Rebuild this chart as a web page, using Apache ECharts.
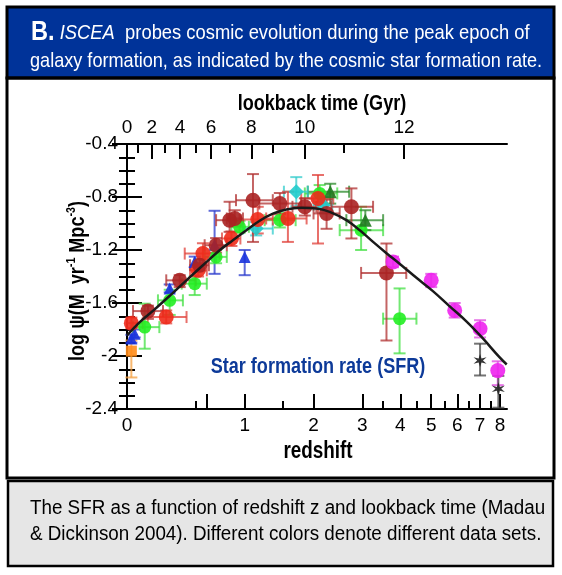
<!DOCTYPE html>
<html><head><meta charset="utf-8">
<script src="https://cdn.jsdelivr.net/npm/echarts@6/dist/echarts.min.js"></script>
<style>html,body{margin:0;padding:0;background:#fff}#c{width:562px;height:575px}</style>
</head><body><div id="c"></div><script>
// ---------- data ----------
// bottom axis (redshift z), plotted on log10(1+z)
const zMajorTicks = [0, 0.6, 1, 2, 3, 4, 5, 6, 7, 8];
const zLabelTicks = [0, 1, 2, 3, 4, 5, 6, 7, 8];
const zMinorTicks = [0.5, 1.5, 3.5, 4.5, 5.5, 6.5, 7.5];
// top axis: lookback time (Gyr) and the redshift where each tick sits
const lookbackGyr = [0, 1, 2, 3, 4, 5, 6, 7, 8, 9, 10, 11, 12];
const lookbackZ   = [0, 0.067, 0.157, 0.25, 0.366, 0.5, 0.64, 0.83, 1.08, 1.36, 1.85, 2.59, 4.11];
// y axis
const yMin = -2.4, yMax = -0.4, yStep = 0.4;

// points: [z, log SFR, zLow, zHigh, logLow, logHigh]
const redPts = [
  [0.026, -1.752, 0.0, 0.097, -1.71, -1.79],
  [0.26, -1.706, 0.13, 0.42, -1.656, -1.754],
  [0.52, -1.353, 0.45, 0.6, -1.31, -1.40],
  [0.564, -1.227, 0.405, 0.726, -1.149, -1.30],
  [0.85, -1.113, 0.75, 0.95, -1.06, -1.17],
  [1.16, -0.97, 0.94, 1.36, -0.874, -1.075],
  [1.58, -0.962, 1.27, 1.88, -0.76, -1.139],
  [2.08, -0.811, 1.79, 2.37, -0.634, -1.151]
];
const darkRedPts = [
  [0.131, -1.661, 0.036, 0.236, -1.62, -1.72],
  [0.364, -1.429, 0.26, 0.5, -1.39, -1.48],
  [0.534, -1.315, 0.45, 0.62, -1.27, -1.36],
  [0.69, -1.164, 0.58, 0.8, -1.11, -1.22],
  [0.83, -0.975, 0.69, 0.96, -0.836, -1.063],
  [0.886, -0.962, 0.8, 0.98, -0.90, -1.02],
  [1.1, -0.824, 0.9, 1.36, -0.627, -1.139],
  [1.46, -0.849, 1.18, 1.79, -0.77, -0.93],
  [1.85, -0.874, 1.65, 2.05, -0.81, -0.94],
  [2.24, -0.924, 2.0, 2.5, -0.82, -1.04],
  [2.75, -0.874, 2.33, 3.26, -0.735, -1.113],
  [3.61, -1.373, 2.97, 4.18, -1.151, -1.883]
];
const greenPts = [
  [0.11, -1.782, 0.036, 0.21, -1.605, -1.945],
  [0.286, -1.58, 0.2, 0.39, -1.5, -1.69],
  [0.49, -1.454, 0.38, 0.6, -1.4, -1.54],
  [0.69, -1.252, 0.58, 0.8, -1.2, -1.3],
  [0.94, -1.025, 0.85, 1.05, -0.98, -1.07],
  [1.46, -0.975, 1.25, 1.7, -0.92, -1.03],
  [2.11, -0.773, 1.85, 2.45, -0.71, -0.84],
  [2.97, -1.05, 2.5, 3.52, -0.874, -1.2],
  [3.98, -1.718, 3.52, 4.5, -1.49, -1.98]
];
const darkGreenPts = [
  [2.31, -0.76, 1.9, 2.7, -0.70, -0.85],
  [3.07, -0.975, 2.64, 3.52, -0.90, -1.05]
];
const bluePts = [
  [0.026, -1.868, null, null, -1.84, -1.90],
  [0.046, -1.832, null, null, -1.80, -1.86],
  [0.286, -1.491, null, null, -1.46, -1.52],
  [0.49, -1.29, null, null, -1.25, -1.33],
  [0.675, -1.16, null, null, -0.904, -1.38],
  [1.0, -1.252, null, null, -1.20, -1.39]
];
const cyanPts = [
  [1.14, -1.038, 0.98, 1.36, -0.99, -1.09],
  [1.71, -0.76, 1.52, 1.9, -0.65, -0.87],
  [2.17, -0.861, 2.0, 2.35, -0.80, -0.92]
];
const magentaPts = [
  [3.79, -1.29, null, null, -1.25, -1.33],
  [5.0, -1.429, null, null, -1.38, -1.48],
  [5.89, -1.656, null, null, -1.60, -1.71],
  [7.0, -1.794, null, null, -1.73, -1.86],
  [7.88, -2.11, null, null, -2.04, -2.22]
];
const blackPts = [
  [7.0, -2.034, null, null, -1.907, -2.147],
  [7.91, -2.248, null, null, -2.15, -2.39]
];
const orangePts = [
  [0.026, -1.963, null, null, -1.883, -2.162]
];
// fitted SFR curve
const curveZ = [0, 0.078, 0.177, 0.286, 0.419, 0.564, 0.726, 0.866, 1.02, 1.185, 1.362, 1.557, 1.79, 2.05, 2.30, 2.64, 2.94, 3.26, 3.61, 3.98, 4.50, 5.06, 5.69, 6.38, 7.08, 7.98, 8.36];
const curveY = [-1.845, -1.744, -1.648, -1.546, -1.429, -1.315, -1.202, -1.126, -1.051, -0.979, -0.926, -0.894, -0.882, -0.886, -0.912, -0.975, -1.051, -1.139, -1.224, -1.304, -1.41, -1.51, -1.625, -1.738, -1.858, -2.011, -2.064];

// ---------- chart ----------
const F = '"Liberation Sans", Arial, sans-serif';
const NARROW = 0.82;
const L = z => Math.log10(1 + z);
const xMax = 0.972;

function toData(pts) {
  return pts.map(p => [L(p[0]), p[1],
    p[2] == null ? NaN : L(p[2]), p[3] == null ? NaN : L(p[3]),
    p[4] == null ? NaN : p[4], p[5] == null ? NaN : p[5]]);
}
function errRender(color) {
  return function (params, api) {
    const x = api.value(0), y = api.value(1);
    const xl = api.value(2), xh = api.value(3), yl = api.value(4), yh = api.value(5);
    const st = { stroke: color, lineWidth: 2, fill: null, opacity: 0.75 };
    const ch = [];
    const cap = 6;
    if (!isNaN(yl) && !isNaN(yh)) {
      const a = api.coord([x, yl]), b = api.coord([x, yh]);
      ch.push({ type: 'line', shape: { x1: a[0], y1: a[1], x2: b[0], y2: b[1] }, style: st });
      ch.push({ type: 'line', shape: { x1: a[0] - cap, y1: a[1], x2: a[0] + cap, y2: a[1] }, style: st });
      ch.push({ type: 'line', shape: { x1: b[0] - cap, y1: b[1], x2: b[0] + cap, y2: b[1] }, style: st });
    }
    if (!isNaN(xl) && !isNaN(xh)) {
      const a = api.coord([xl, y]), b = api.coord([xh, y]);
      ch.push({ type: 'line', shape: { x1: a[0], y1: a[1], x2: b[0], y2: b[1] }, style: st });
      ch.push({ type: 'line', shape: { x1: a[0], y1: a[1] - cap, x2: a[0], y2: a[1] + cap }, style: st });
      ch.push({ type: 'line', shape: { x1: b[0], y1: b[1] - cap, x2: b[0], y2: b[1] + cap }, style: st });
    }
    return { type: 'group', children: ch };
  };
}
const starPath = 'path://M0,-10 L2,-3 L9,-5 L4,0 L9,5 L2,3 L0,10 L-2,3 L-9,5 L-4,0 L-9,-5 L-2,-3 Z';
const sets = [
  { name: 'orange', pts: orangePts, bar: '#f5a040', col: '#ff8c1a', sym: 'rect', size: 11 },
  { name: 'blue', pts: bluePts, bar: '#2a3acc', col: '#1a33dd', sym: 'triangle', size: 12 },
  { name: 'green', pts: greenPts, bar: '#44e044', col: '#22ee22', sym: 'circle', size: 13 },
  { name: 'darkgreen', pts: darkGreenPts, bar: '#2a8a2a', col: '#1f7a1f', sym: 'triangle', size: 13 },
  { name: 'cyan', pts: cyanPts, bar: '#33cccc', col: '#22cccc', sym: 'diamond', size: 15 },
  { name: 'red', pts: redPts, bar: '#e0403a', col: '#ee2a1a', sym: 'circle', size: 15 },
  { name: 'darkred', pts: darkRedPts, bar: '#b03030', col: '#aa2222', sym: 'circle', size: 15 },
  { name: 'magenta', pts: magentaPts, bar: '#dd44dd', col: '#ee22ee', sym: 'circle', size: 15 },
  { name: 'black', pts: blackPts, bar: '#444444', col: '#222222', sym: starPath, size: 13 }
];
const series = [];
sets.forEach((s, i) => {
  const d = toData(s.pts);
  series.push({ type: 'custom', name: s.name + ' err', xAxisIndex: 0, yAxisIndex: 0,
    renderItem: errRender(s.bar), data: d, encode: { x: 0, y: 1 }, z: 2 + i * 0.01, silent: true });
  series.push({ type: 'scatter', name: s.name, xAxisIndex: 0, yAxisIndex: 0,
    data: d.map(p => [p[0], p[1]]), symbol: s.sym, symbolSize: s.size,
    itemStyle: { color: s.col, opacity: 0.9 }, z: 3 + i * 0.01 });
});
series.push({ type: 'line', name: 'SFR fit', xAxisIndex: 0, yAxisIndex: 0,
  data: curveZ.map((z, i) => [L(z), curveY[i]]), showSymbol: false, symbol: 'none',
  smooth: 0.4, lineStyle: { color: '#1a1a1a', width: 2.5 }, z: 10 });

const blk = { color: '#000', width: 2 };
const baseX = { type: 'value', min: 0, max: xMax, splitLine: { show: false }, minorTick: { show: false } };
const evenIdx = lookbackGyr.map((g, i) => i).filter(i => lookbackGyr[i] % 2 === 0);
const oddIdx = lookbackGyr.map((g, i) => i).filter(i => lookbackGyr[i] % 2 === 1);
const yBase = {
  type: 'value', min: yMin, max: yMax, interval: yStep, splitLine: { show: false },
  axisLine: { show: true, lineStyle: blk },
  axisTick: { show: true, inside: true, length: 15, lineStyle: blk },
  minorTick: { show: true, splitNumber: 4, length: 8, lineStyle: blk }
};
const tickFont = { fontFamily: F, fontSize: 19, color: '#000' };

function narrowText(x, y, text, extra, sx) {
  return Object.assign({ type: 'text', x: x, y: y, scaleX: sx || NARROW, z: 20,
    style: Object.assign({ text: text, fontFamily: F, fill: '#000' }, extra) });
}

const option = {
  animation: false,
  backgroundColor: '#fff',
  grid: { left: 127, top: 144, width: 380, height: 265, containLabel: false },
  xAxis: [
    Object.assign({}, baseX, {
      position: 'bottom',
      axisLine: { show: true, lineStyle: blk },
      axisTick: { show: true, inside: true, length: 15, lineStyle: blk, customValues: zMajorTicks.map(L) },
      axisLabel: Object.assign({ show: true, customValues: zLabelTicks.map(L), margin: 7,
        formatter: v => String(Math.round(Math.pow(10, v) - 1)) }, tickFont)
    }),
    Object.assign({}, baseX, {
      position: 'bottom',
      axisLine: { show: false },
      axisTick: { show: true, inside: true, length: 8, lineStyle: blk, customValues: zMinorTicks.map(L) },
      axisLabel: { show: false }
    }),
    Object.assign({}, baseX, {
      position: 'top',
      axisLine: { show: true, lineStyle: blk },
      axisTick: { show: true, inside: true, length: 15, lineStyle: blk, customValues: evenIdx.map(i => L(lookbackZ[i])) },
      axisLabel: Object.assign({ show: true, customValues: evenIdx.map(i => L(lookbackZ[i])), margin: 7,
        formatter: v => {
          let best = 0, bd = 1e9;
          lookbackZ.forEach((z, i) => { const d = Math.abs(L(z) - v); if (d < bd) { bd = d; best = i; } });
          return String(lookbackGyr[best]);
        } }, tickFont)
    }),
    Object.assign({}, baseX, {
      position: 'top',
      axisLine: { show: false },
      axisTick: { show: true, inside: true, length: 9, lineStyle: blk, customValues: oddIdx.map(i => L(lookbackZ[i])) },
      axisLabel: { show: false }
    })
  ],
  yAxis: [
    Object.assign({}, yBase, {
      position: 'left',
      axisLabel: Object.assign({ show: true, margin: 9 }, tickFont)
    }),
    Object.assign({}, yBase, {
      position: 'right',
      axisLabel: { show: false }
    })
  ],
  graphic: [
    { type: 'rect', shape: { x: 7, y: 7, width: 547, height: 71 }, style: { fill: '#003399', stroke: '#000', lineWidth: 3 } },
    { type: 'rect', shape: { x: 7, y: 78, width: 547, height: 400 }, style: { fill: null, stroke: '#000', lineWidth: 3 } },
    { type: 'rect', shape: { x: 8, y: 481, width: 545, height: 85 }, style: { fill: '#e6e6e6', stroke: '#000', lineWidth: 2.5 } },
    narrowText(31, 33, '{b|B.} {i|ISCEA}  probes cosmic evolution during the peak epoch of', {
      fill: '#fff', fontSize: 21, verticalAlign: 'middle', align: 'left',
      rich: { b: { fontFamily: F, fontSize: 27, fontWeight: 'bold', fill: '#fff' },
              i: { fontFamily: F, fontSize: 21, fontStyle: 'italic', fill: '#fff' } } }, 0.875),
    narrowText(30, 61, 'galaxy formation, as indicated by the cosmic star formation rate.', {
      fill: '#fff', fontSize: 21, verticalAlign: 'middle', align: 'left' }, 0.862),
    // axis titles
    narrowText(322, 104, 'lookback time (Gyr)', { fontSize: 22, fontWeight: 'bold', align: 'center', verticalAlign: 'middle' }),
    narrowText(318, 452, 'redshift', { fontSize: 23, fontWeight: 'bold', align: 'center', verticalAlign: 'middle' }),
    Object.assign(narrowText(78, 281, 'log ψ(M  yr{sup|-1} Mpc{sup|-3})', {
      fontSize: 22, fontWeight: 'bold', align: 'center', verticalAlign: 'middle', lineHeight: 26,
      rich: { sup: { fontFamily: F, fontSize: 13, fontWeight: 'bold', fill: '#000', verticalAlign: 'top', lineHeight: 13 } } }),
      { rotation: Math.PI / 2 }),
    narrowText(318, 367, 'Star formation rate (SFR)', {
      fill: '#0d3a99', fontSize: 22, fontWeight: 'bold', align: 'center', verticalAlign: 'middle' }),
    narrowText(30, 508, 'The SFR as a function of redshift z and lookback time (Madau', {
      fontSize: 20, verticalAlign: 'middle', align: 'left' }, 0.94),
    narrowText(30, 534, '& Dickinson 2004). Different colors denote different data sets.', {
      fontSize: 20, verticalAlign: 'middle', align: 'left' }, 0.94)
  ],
  series: series
};
const chart = echarts.init(document.getElementById('c'), null, { renderer: 'canvas' });
chart.setOption(option);
</script></body></html>
